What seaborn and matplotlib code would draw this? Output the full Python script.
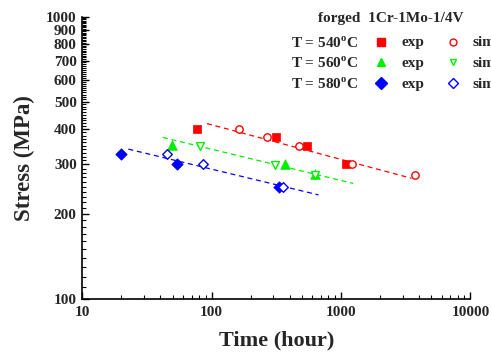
import numpy as np
import pandas as pd
import matplotlib
matplotlib.use("Agg")
import matplotlib.pyplot as plt
from matplotlib.lines import Line2D
from matplotlib.ticker import FixedLocator, NullFormatter, FixedFormatter, LogLocator
import seaborn as sns

# ---- data ----
temps = ["540", "560", "580"]
colors = ["#ff0000", "#00ee00", "#0000ff"]

exp540_t = [77, 315, 545, 1100]
exp540_s = [400, 375, 350, 300]
sim540_t = [163, 267, 475, 1210, 3700]
sim540_s = [400, 375, 350, 300, 276]
fit540_t = [92, 3500]
fit540_s = [419, 268]

exp560_t = [49, 366, 630]
exp560_s = [352, 302, 277]
sim560_t = [81, 310, 630]
sim560_s = [348, 299, 275]
fit560_t = [42, 1240]
fit560_s = [374, 257]

exp580_t = [20, 54, 330]
exp580_s = [326, 300, 250]
sim580_t = [45, 86, 354]
sim580_s = [326, 300, 250]
fit580_t = [22.7, 670]
fit580_s = [340, 234]

y_ticks = [100, 200, 300, 400, 500, 600, 700, 800, 900, 1000]
x_ticks = [10, 100, 1000, 10000]

sns.set_style("ticks")
plt.rcParams["font.family"] = ["Liberation Serif", "DejaVu Serif"]
plt.rcParams["font.weight"] = "bold"
plt.rcParams["mathtext.fontset"] = "custom"
plt.rcParams["mathtext.rm"] = "Liberation Serif:bold"
plt.rcParams["mathtext.bf"] = "Liberation Serif:bold"

fig = plt.figure(figsize=(4.91, 3.58), dpi=100)
ax = fig.add_axes([0.1676, 0.1648, 0.958 - 0.1676, 0.9525 - 0.1648])

exp_sets = [(exp540_t, exp540_s), (exp560_t, exp560_s), (exp580_t, exp580_s)]
sim_sets = [(sim540_t, sim540_s), (sim560_t, sim560_s), (sim580_t, sim580_s)]
fit_sets = [(fit540_t, fit540_s), (fit560_t, fit560_s), (fit580_t, fit580_s)]
exp_markers = ["s", "^", "D"]
sim_markers = ["o", "v", "D"]
exp_sizes = [40, 48, 34]
sim_sizes = [28, 32, 24]

for (ft, fs), c in zip(fit_sets, colors):
    sns.lineplot(x=ft, y=fs, ax=ax, color=c, lw=0.9, linestyle=(0, (4, 3)))

for (et, es), c, m, sz in zip(exp_sets, colors, exp_markers, exp_sizes):
    sns.scatterplot(x=et, y=es, ax=ax, color=c, marker=m, s=sz, edgecolor=c, linewidth=0.5, zorder=3)

for (st, ss), c, m, sz in zip(sim_sets, colors, sim_markers, sim_sizes):
    sns.scatterplot(x=st, y=ss, ax=ax, marker=m, s=sz, facecolor="white", edgecolor=c, linewidth=1.0, zorder=4)

ax.set_xscale("log")
ax.set_yscale("log")
ax.set_xlim(10, 10000)
ax.set_ylim(100, 1000)

ax.xaxis.set_major_locator(FixedLocator(x_ticks))
ax.xaxis.set_major_formatter(FixedFormatter([str(v) for v in x_ticks]))
ax.xaxis.set_minor_locator(LogLocator(base=10, subs=np.arange(2, 10)))
ax.xaxis.set_minor_formatter(NullFormatter())

ax.yaxis.set_major_locator(FixedLocator(y_ticks))
ax.yaxis.set_major_formatter(FixedFormatter([str(v) for v in y_ticks]))
ax.yaxis.set_minor_locator(FixedLocator([v for v in range(110, 1000, 10) if v % 100 != 0]))
ax.yaxis.set_minor_formatter(NullFormatter())

ax.tick_params(axis="both", which="major", direction="in", length=5, width=1, labelsize=11, color="black")
ax.tick_params(axis="x", which="major", pad=5)
ax.tick_params(axis="y", which="major", pad=4)
ax.tick_params(axis="both", which="minor", direction="in", length=3, width=0.8, color="black")
for lab in ax.get_xticklabels() + ax.get_yticklabels():
    lab.set_fontweight("bold")

for s in ["top", "right"]:
    ax.spines[s].set_visible(False)
for s in ["left", "bottom"]:
    ax.spines[s].set_linewidth(1.2)
    ax.spines[s].set_color("black")

ax.set_xlabel("Time (hour)", fontsize=16, fontweight="bold", labelpad=8)
ax.set_ylabel("Stress (MPa)", fontsize=16.5, fontweight="bold", labelpad=8)

# ---- legend block ----
fs_leg = 11
fig.text(0.648, 0.947, "forged  1Cr-1Mo-1/4V", fontsize=fs_leg, fontweight="bold", va="center", ha="left")
row_y = [0.880, 0.823, 0.765]
for i, (t, c) in enumerate(zip(temps, colors)):
    fig.text(0.592, row_y[i], r"T = " + t + r"$^{\mathrm{o}}$C", fontsize=fs_leg, fontweight="bold", va="center", ha="left")
    fig.add_artist(Line2D([0.776], [row_y[i] + 0.004], transform=fig.transFigure, marker=exp_markers[i],
                          color=c, markersize=6, linestyle="none"))
    fig.text(0.818, row_y[i], "exp", fontsize=fs_leg, fontweight="bold", va="center", ha="left")
    fig.add_artist(Line2D([0.922], [row_y[i] + 0.004], transform=fig.transFigure, marker=sim_markers[i],
                          markerfacecolor="white", markeredgecolor=c, markersize=5, markeredgewidth=1.0, linestyle="none"))
    fig.text(0.963, row_y[i], "sim", fontsize=fs_leg, fontweight="bold", va="center", ha="left")

fig.savefig("out.png", dpi=100)
